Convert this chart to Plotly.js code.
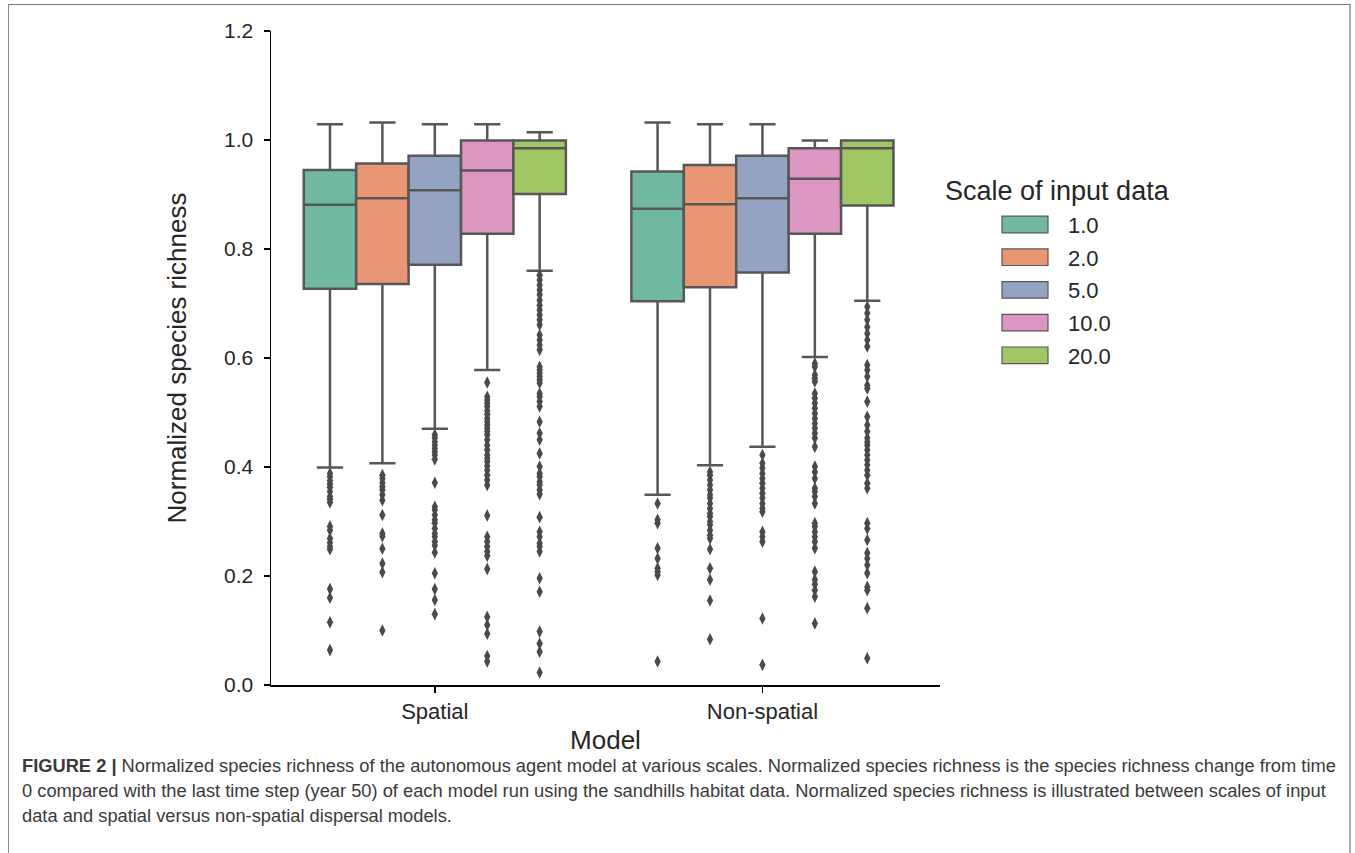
<!DOCTYPE html>
<html><head><meta charset="utf-8">
<script src="https://cdn.plot.ly/plotly-3.0.1.min.js"></script>
<style>
html,body{margin:0;padding:0;background:#fff;overflow:hidden;}
#chart{width:1355px;height:853px;position:absolute;left:0;top:0;}
#frame{position:absolute;left:8px;top:4px;width:1340px;height:900px;border-left:1.5px solid #888;border-top:1.5px solid #777;border-right:2px solid #aaa;pointer-events:none;}
</style></head><body>
<div id="chart"></div><div id="frame"></div>
<script>
// ---- data ----
const models = ['Spatial', 'Non-spatial'];
const scales = ['1.0', '2.0', '5.0', '10.0', '20.0'];
const colors = ['#70b8a1', '#e99675', '#95a3c3', '#db96c1', '#a1c764'];

const spatialLowerFence = [0.399, 0.407, 0.470, 0.578, 0.760];
const spatialQ1         = [0.727, 0.736, 0.771, 0.828, 0.901];
const spatialMedian     = [0.881, 0.893, 0.908, 0.944, 0.985];
const spatialQ3         = [0.945, 0.957, 0.971, 0.999, 0.999];
const spatialUpperFence = [1.029, 1.032, 1.029, 1.029, 1.014];

const nonSpatialLowerFence = [0.349, 0.403, 0.437, 0.602, 0.705];
const nonSpatialQ1         = [0.704, 0.730, 0.757, 0.828, 0.880];
const nonSpatialMedian     = [0.874, 0.882, 0.893, 0.929, 0.985];
const nonSpatialQ3         = [0.942, 0.954, 0.971, 0.985, 0.999];
const nonSpatialUpperFence = [1.032, 1.029, 1.029, 0.999, 0.999];

const spatialOutliers = [
  [0.388,0.382,0.375,0.369,0.363,0.355,0.346,0.341,0.335,0.291,0.284,0.269,0.261,0.254,0.249,0.176,0.160,0.115,0.064],
  [0.385,0.379,0.371,0.364,0.358,0.349,0.339,0.312,0.278,0.273,0.250,0.223,0.207,0.100],
  [0.459,0.453,0.446,0.440,0.434,0.428,0.422,0.414,0.371,0.327,0.321,0.312,0.303,0.297,0.287,0.278,0.272,0.263,0.256,0.243,0.205,0.176,0.156,0.130],
  [0.555,0.529,0.523,0.517,0.511,0.503,0.497,0.489,0.483,0.477,0.471,0.465,0.459,0.450,0.440,0.431,0.422,0.416,0.410,0.402,0.394,0.385,0.376,0.367,0.311,0.272,0.263,0.254,0.245,0.237,0.213,0.125,0.110,0.094,0.053,0.043],
  [0.752,0.743,0.734,0.725,0.716,0.706,0.697,0.688,0.679,0.670,0.661,0.642,0.633,0.624,0.615,0.584,0.578,0.572,0.566,0.560,0.554,0.535,0.529,0.520,0.511,0.483,0.462,0.450,0.425,0.401,0.388,0.382,0.373,0.367,0.358,0.350,0.308,0.281,0.272,0.260,0.254,0.245,0.196,0.171,0.098,0.076,0.061,0.023]
];
const nonSpatialOutliers = [
  [0.333,0.303,0.297,0.251,0.232,0.214,0.208,0.202,0.043],
  [0.391,0.385,0.376,0.367,0.358,0.349,0.343,0.333,0.324,0.315,0.309,0.300,0.294,0.284,0.275,0.269,0.249,0.214,0.193,0.155,0.084],
  [0.422,0.407,0.398,0.388,0.379,0.370,0.361,0.352,0.343,0.333,0.324,0.318,0.281,0.272,0.263,0.122,0.037],
  [0.590,0.584,0.569,0.563,0.557,0.535,0.526,0.517,0.508,0.498,0.489,0.480,0.471,0.462,0.453,0.437,0.401,0.391,0.379,0.361,0.355,0.346,0.333,0.297,0.291,0.281,0.272,0.263,0.251,0.208,0.193,0.185,0.174,0.162,0.113],
  [0.694,0.682,0.670,0.657,0.645,0.633,0.621,0.587,0.578,0.566,0.550,0.544,0.520,0.492,0.477,0.465,0.453,0.446,0.440,0.431,0.422,0.413,0.404,0.394,0.385,0.370,0.361,0.297,0.287,0.266,0.242,0.232,0.220,0.205,0.180,0.174,0.141,0.049]
];

const yTicks = [0.0, 0.2, 0.4, 0.6, 0.8, 1.0, 1.2];
const axisTitleX = 'Model';
const axisTitleY = 'Normalized species richness';
const legendTitle = 'Scale of input data';
const captionBold = 'FIGURE 2 |';
const captionLines = [
  'Normalized species richness of the autonomous agent model at various scales. Normalized species richness is the species richness change from time',
  '0 compared with the last time step (year 50) of each model run using the sandhills habitat data. Normalized species richness is illustrated between scales of input',
  'data and spatial versus non-spatial dispersal models.'
];

// ---- build ----
const FONT = 'Liberation Sans, Arial, Helvetica, sans-serif';
const LINE = '#575757';
const groupWidth = 0.8;
const boxW = groupWidth / scales.length;

const stats = [
  {lf: spatialLowerFence, q1: spatialQ1, med: spatialMedian, q3: spatialQ3, uf: spatialUpperFence, out: spatialOutliers},
  {lf: nonSpatialLowerFence, q1: nonSpatialQ1, med: nonSpatialMedian, q3: nonSpatialQ3, uf: nonSpatialUpperFence, out: nonSpatialOutliers}
];

const traces = [];
models.forEach((m, mi) => {
  scales.forEach((s, si) => {
    const pos = mi + (si - (scales.length - 1) / 2) * boxW;
    const st = stats[mi];
    traces.push({
      type: 'box', name: s, x: [pos],
      q1: [st.q1[si]], median: [st.med[si]], q3: [st.q3[si]],
      lowerfence: [st.lf[si]], upperfence: [st.uf[si]],
      width: boxW, whiskerwidth: 0.5,
      fillcolor: colors[si], line: {color: LINE, width: 2.5},
      boxpoints: false, showlegend: false, hoverinfo: 'skip'
    });
    traces.push({
      type: 'scatter', mode: 'markers', name: s + ' outliers',
      x: st.out[si].map(() => pos), y: st.out[si],
      marker: {symbol: 'diamond-tall', size: 9, color: '#4a4a4a'},
      showlegend: false, hoverinfo: 'skip'
    });
  });
});

// pixel -> paper helpers
const L = 271, R = 940, T = 31, B = 685;
const px = v => (v - L) / (R - L);
const py = v => (B - v) / (B - T);

const shapes = [];
const annotations = [];
annotations.push({text: legendTitle, xref: 'paper', yref: 'paper', x: px(1057), y: py(191),
  xanchor: 'center', yanchor: 'middle', showarrow: false, font: {family: FONT, size: 27, color: '#262626'}});
scales.forEach((s, si) => {
  const cy = 224.5 + si * 32.7;
  shapes.push({type: 'rect', xref: 'paper', yref: 'paper', x0: px(1002), x1: px(1048), y0: py(cy - 8.3), y1: py(cy + 8.3),
    fillcolor: colors[si], line: {color: LINE, width: 1.2}});
  annotations.push({text: s, xref: 'paper', yref: 'paper', x: px(1066), y: py(cy + 1), xanchor: 'left', yanchor: 'middle',
    showarrow: false, font: {family: FONT, size: 22, color: '#262626'}});
});
captionLines.forEach((line, i) => {
  annotations.push({
    text: (i === 0 ? '<b>' + captionBold + '</b> ' : '') + line,
    xref: 'paper', yref: 'paper', x: px(20), y: py(765 + i * 25), xanchor: 'left', yanchor: 'middle', align: 'left',
    showarrow: false, font: {family: FONT, size: 18.3, color: '#3a3a3a'}
  });
});

const layout = {
  width: 1355, height: 853,
  margin: {l: L, r: 1355 - R, t: T, b: 853 - B, pad: 0},
  paper_bgcolor: '#ffffff', plot_bgcolor: '#ffffff',
  font: {family: FONT, color: '#262626'},
  boxmode: 'overlay',
  showlegend: false,
  xaxis: {
    range: [-0.5, 1.542], tickvals: [0, 1], ticktext: models,
    showgrid: false, zeroline: false, showline: true, linecolor: '#000', linewidth: 1.5,
    ticks: 'outside', ticklen: 6, tickwidth: 1.5, tickcolor: '#000',
    tickfont: {family: FONT, size: 22, color: '#262626'},
    title: {text: axisTitleX, font: {family: FONT, size: 26, color: '#262626'}, standoff: 8}
  },
  yaxis: {
    range: [0, 1.2], tickvals: yTicks, tickformat: '.1f',
    showgrid: false, zeroline: false, showline: true, linecolor: '#000', linewidth: 1.5,
    ticks: 'outside', ticklen: 6, tickwidth: 1.5, tickcolor: '#000',
    tickfont: {family: FONT, size: 21, color: '#262626'},
    ticklabelstandoff: 6,
    title: {text: axisTitleY, font: {family: FONT, size: 26, color: '#262626'}, standoff: 30}
  },
  shapes: shapes,
  annotations: annotations
};

Plotly.newPlot('chart', traces, layout, {staticPlot: true, displayModeBar: false});
</script>
</body></html>
